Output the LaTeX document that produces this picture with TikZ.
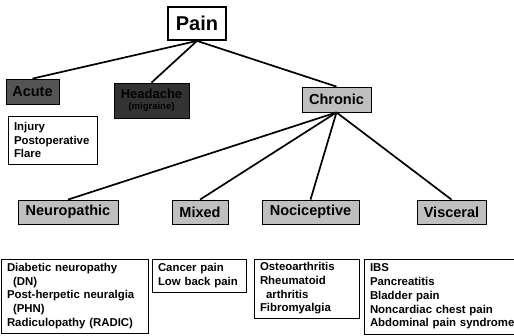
\documentclass[tikz,border=0pt]{standalone}
\usepackage{fontspec}
\setmainfont{Liberation Sans}
\usetikzlibrary{positioning,calc}

\begin{document}
\begin{tikzpicture}[x=1pt,y=-1pt,
  cat/.style={draw,text=black,line width=0.8pt,inner sep=0pt,font=\bfseries\fontsize{14.5}{16}\selectfont},
  lst/.style={draw,line width=0.8pt,inner xsep=6pt,inner ysep=0pt,align=left,font=\bfseries\fontsize{11.4}{13.7}\selectfont},
  link/.style={line width=1.7pt}]
\useasboundingbox (0,0) rectangle (514,335);
\node[cat,line width=1.8pt,minimum width=58pt,minimum height=33pt,font=\bfseries\fontsize{20}{22}\selectfont] (0) at (197,23.5) {Pain};
\node[cat,fill=black!67,minimum width=53pt,minimum height=25pt] (1) at (32.5,91.5) {Acute};
\node[cat,fill=black!80,minimum width=75pt,minimum height=35pt,align=center,font=\bfseries\fontsize{13}{14}\selectfont] (2) at (151.5,100.5) {Headache\\[-3pt]{\fontsize{9.5}{10}\selectfont(migraine)}};
\node[cat,fill=black!25,minimum width=69pt,minimum height=25pt] (3) at (336.5,99.5) {Chronic};
\node[lst,text width=77pt,minimum height=48pt] (4) at (52.5,140) {Injury\\Postoperative\\Flare};
\node[cat,fill=black!25,minimum width=100pt,minimum height=24pt] (5) at (68,212) {Neuropathic};
\node[cat,fill=black!25,minimum width=56pt,minimum height=24pt] (6) at (200,212) {Mixed};
\node[cat,fill=black!25,minimum width=97pt,minimum height=24pt] (7) at (310.5,212) {Nociceptive};
\node[cat,fill=black!25,minimum width=69pt,minimum height=24pt] (8) at (451.5,212) {Visceral};
\node[lst,text width=135pt,minimum height=74pt] (9) at (74.5,296) {Diabetic neuropathy\\\hspace*{6pt}(DN)\\Post-herpetic neuralgia\\\hspace*{6pt}(PHN)\\Radiculopathy (RADIC)};
\node[lst,text width=82pt,minimum height=33pt] (10) at (199,275.5) {Cancer pain\\Low back pain};
\node[lst,text width=93pt,minimum height=59pt] (11) at (306.5,288.5) {Osteoarthritis\\Rheumatoid\\\hspace*{6pt}arthritis\\Fibromyalgia};
\node[lst,text width=150pt,minimum height=75pt] (12) at (445,296.5) {IBS\\Pancreatitis\\Bladder pain\\Noncardiac chest pain\\Abdominal pain syndrome};
\draw[link] (0.south)--(1.north);
\draw[link] (0.south)--(2.north);
\draw[link] (0.south)--(3.north);
\draw[link] (3.south)--(5.north);
\draw[link] (3.south)--(6.north);
\draw[link] (3.south)--(7.north);
\draw[link] (3.south)--(8.north);
\end{tikzpicture}
\end{document}
